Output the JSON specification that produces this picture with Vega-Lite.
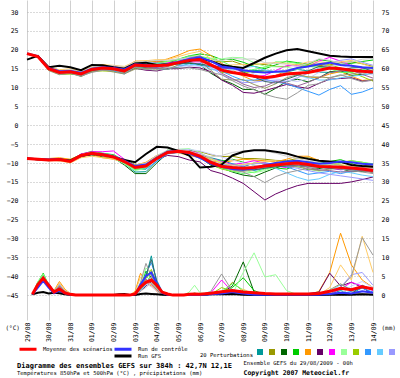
{
"$schema":"https://vega.github.io/schema/vega-lite/v6.json",
"width":346,"height":320,
"autosize":{"type":"none"},
"padding":{"left":27,"top":0,"right":27,"bottom":58},
"background":"#ffffff",
"config":{"view":{"stroke":null},"font":"DejaVu Sans Mono",
 "axis":{"labelFont":"DejaVu Sans Mono","titleFont":"DejaVu Sans Mono","labelColor":"#000000","titleColor":"#000000"},
 "legend":{"labelFont":"DejaVu Sans Mono","titleFont":"DejaVu Sans Mono","labelColor":"#000000","titleColor":"#000000","padding":0},
 "title":{"font":"DejaVu Sans Mono","subtitleFont":"DejaVu Sans Mono","color":"#000000","subtitleColor":"#000000"}},
"title":{"text":"Diagramme des ensembles GEFS sur 384h : 42,7N 12,1E","subtitle":"Températures 850hPa et 500hPa (°C) , précipitations (mm)","orient":"bottom","anchor":"start","frame":"group","fontSize":7,"fontWeight":"bold","subtitleFontSize":5.5,"subtitlePadding":2,"dx":-10,"dy":-14,"offset":0},
"datasets":{
"t850":[
{"t":0,"moy":19,"ctl":19,"gfs":17.4,"p01":19,"p02":19,"p03":19,"p04":19,"p05":19,"p06":19,"p07":19,"p08":19,"p09":19,"p10":19,"p11":19,"p12":19,"p13":19,"p14":19,"p15":19,"p16":19,"p17":19,"p18":19,"p19":19,"p20":19},
{"t":12,"moy":18.2,"ctl":18.3,"gfs":18.4,"p01":18.4,"p02":18.1,"p03":18.3,"p04":18.2,"p05":18.4,"p06":18.0,"p07":18.3,"p08":18.1,"p09":18.2,"p10":18.0,"p11":18.3,"p12":18.2,"p13":18.0,"p14":18.2,"p15":18.4,"p16":18.1,"p17":18.3,"p18":18.1,"p19":18.2,"p20":18.0},
{"t":24,"moy":15.0,"ctl":15.2,"gfs":15.4,"p01":15.3,"p02":15.4,"p03":14.8,"p04":15.3,"p05":15.6,"p06":14.7,"p07":15.2,"p08":14.6,"p09":14.7,"p10":15.1,"p11":15.2,"p12":15.4,"p13":14.9,"p14":15.0,"p15":15.5,"p16":14.5,"p17":15.0,"p18":15.2,"p19":15.3,"p20":14.8},
{"t":36,"moy":14.0,"ctl":14.3,"gfs":15.8,"p01":13.7,"p02":14.5,"p03":13.6,"p04":14.2,"p05":14.6,"p06":14.1,"p07":14.4,"p08":13.8,"p09":13.5,"p10":13.9,"p11":13.8,"p12":14.3,"p13":14.3,"p14":13.7,"p15":14.7,"p16":13.4,"p17":14.2,"p18":14.0,"p19":14.4,"p20":13.5},
{"t":48,"moy":14.2,"ctl":14.4,"gfs":15.4,"p01":14.0,"p02":14.5,"p03":13.7,"p04":14.7,"p05":14.6,"p06":14.0,"p07":14.3,"p08":14.5,"p09":13.6,"p10":13.8,"p11":14.4,"p12":14.8,"p13":14.2,"p14":14.3,"p15":15.0,"p16":13.9,"p17":13.9,"p18":14.4,"p19":14.8,"p20":13.8},
{"t":60,"moy":13.6,"ctl":13.9,"gfs":14.6,"p01":13.1,"p02":14.2,"p03":13.3,"p04":14.0,"p05":14.3,"p06":13.8,"p07":13.9,"p08":13.5,"p09":13.2,"p10":13.0,"p11":14.1,"p12":13.8,"p13":13.6,"p14":13.4,"p15":14.5,"p16":12.9,"p17":13.8,"p18":13.7,"p19":14.1,"p20":13.1},
{"t":72,"moy":14.8,"ctl":15.0,"gfs":16.0,"p01":14.4,"p02":15.3,"p03":14.2,"p04":15.1,"p05":15.6,"p06":14.6,"p07":15.3,"p08":15.0,"p09":14.3,"p10":14.6,"p11":14.9,"p12":15.4,"p13":15.2,"p14":14.8,"p15":15.4,"p16":14.2,"p17":14.5,"p18":15.1,"p19":15.5,"p20":14.0},
{"t":84,"moy":15.2,"ctl":15.4,"gfs":15.9,"p01":14.9,"p02":15.5,"p03":14.8,"p04":15.8,"p05":16.1,"p06":14.7,"p07":15.4,"p08":15.0,"p09":14.4,"p10":14.8,"p11":15.6,"p12":15.4,"p13":15.8,"p14":15.5,"p15":16.0,"p16":14.7,"p17":15.2,"p18":15.1,"p19":15.7,"p20":14.6},
{"t":96,"moy":15.0,"ctl":15.2,"gfs":15.4,"p01":14.5,"p02":15.6,"p03":14.8,"p04":15.4,"p05":15.5,"p06":14.7,"p07":15.7,"p08":15.2,"p09":14.3,"p10":14.4,"p11":15.3,"p12":15.5,"p13":15.2,"p14":14.8,"p15":15.9,"p16":14.1,"p17":14.6,"p18":15.1,"p19":15.8,"p20":14.6},
{"t":108,"moy":14.4,"ctl":14.8,"gfs":15.0,"p01":14.2,"p02":15.3,"p03":13.9,"p04":15.1,"p05":15.2,"p06":13.8,"p07":14.9,"p08":14.7,"p09":14.0,"p10":13.6,"p11":14.6,"p12":15.0,"p13":14.8,"p14":14.4,"p15":15.6,"p16":13.6,"p17":14.3,"p18":14.1,"p19":15.4,"p20":13.8},
{"t":120,"moy":16.0,"ctl":16.2,"gfs":16.4,"p01":15.4,"p02":16.5,"p03":15.7,"p04":16.4,"p05":17.0,"p06":15.1,"p07":16.8,"p08":15.6,"p09":15.2,"p10":15.5,"p11":16.6,"p12":16.2,"p13":16.7,"p14":16.3,"p15":16.9,"p16":14.9,"p17":15.8,"p18":16.1,"p19":16.8,"p20":15.4},
{"t":132,"moy":15.8,"ctl":16.0,"gfs":16.6,"p01":15.0,"p02":16.7,"p03":16.0,"p04":16.0,"p05":17.0,"p06":14.6,"p07":16.2,"p08":15.6,"p09":15.2,"p10":15.5,"p11":16.7,"p12":16.3,"p13":16.3,"p14":15.8,"p15":17.1,"p16":15.0,"p17":15.3,"p18":15.4,"p19":16.9,"p20":14.8},
{"t":144,"moy":15.8,"ctl":15.6,"gfs":16.0,"p01":15.3,"p02":17.0,"p03":16.4,"p04":15.5,"p05":16.8,"p06":14.4,"p07":16.7,"p08":16.2,"p09":14.9,"p10":15.0,"p11":16.4,"p12":16.0,"p13":16.5,"p14":15.4,"p15":17.4,"p16":15.2,"p17":15.6,"p18":15.0,"p19":17.2,"p20":14.6},
{"t":156,"moy":16.0,"ctl":16.2,"gfs":16.2,"p01":15.0,"p02":16.8,"p03":16.3,"p04":16.4,"p05":17.6,"p06":15.0,"p07":16.6,"p08":16.8,"p09":15.5,"p10":14.8,"p11":16.2,"p12":15.8,"p13":17.0,"p14":15.4,"p15":17.4,"p16":14.8,"p17":16.2,"p18":15.6,"p19":17.2,"p20":15.2},
{"t":168,"moy":16.6,"ctl":16.8,"gfs":16.6,"p01":15.4,"p02":17.0,"p03":16.4,"p04":17.5,"p05":18.6,"p06":15.0,"p07":16.9,"p08":17.6,"p09":16.4,"p10":15.8,"p11":16.2,"p12":17.1,"p13":17.4,"p14":15.6,"p15":18.2,"p16":16.0,"p17":16.2,"p18":16.8,"p19":17.6,"p20":15.2},
{"t":180,"moy":17.2,"ctl":17.6,"gfs":17.0,"p01":16.4,"p02":17.8,"p03":16.4,"p04":18.4,"p05":19.8,"p06":15.4,"p07":16.8,"p08":17.7,"p09":17.4,"p10":15.8,"p11":16.2,"p12":18.2,"p13":18.4,"p14":15.8,"p15":19.0,"p16":17.2,"p17":16.6,"p18":17.8,"p19":17.8,"p20":15.2},
{"t":192,"moy":17.4,"ctl":18.0,"gfs":17.8,"p01":15.9,"p02":17.6,"p03":16.0,"p04":18.9,"p05":20.2,"p06":15.2,"p07":16.8,"p08":18.2,"p09":18.0,"p10":16.4,"p11":15.8,"p12":17.8,"p13":18.3,"p14":15.6,"p15":19.6,"p16":17.0,"p17":16.2,"p18":18.4,"p19":17.6,"p20":14.8},
{"t":204,"moy":16.0,"ctl":17.0,"gfs":17.0,"p01":15.5,"p02":17.0,"p03":13.8,"p04":18.5,"p05":18.5,"p06":14.2,"p07":16.2,"p08":17.8,"p09":16.0,"p10":15.2,"p11":14.8,"p12":15.5,"p13":17.6,"p14":15.2,"p15":17.6,"p16":14.6,"p17":15.8,"p18":16.4,"p19":17.2,"p20":14.0},
{"t":216,"moy":14.6,"ctl":15.6,"gfs":16.0,"p01":15.1,"p02":16.8,"p03":12.1,"p04":17.4,"p05":16.4,"p06":12.0,"p07":15.2,"p08":17.6,"p09":14.0,"p10":14.4,"p11":14.4,"p12":13.4,"p13":17.0,"p14":14.6,"p15":15.8,"p16":12.2,"p17":15.4,"p18":13.8,"p19":17.2,"p20":13.4},
{"t":228,"moy":14.0,"ctl":15.2,"gfs":15.5,"p01":15.0,"p02":17.0,"p03":11.0,"p04":17.5,"p05":14.6,"p06":10.6,"p07":15.2,"p08":18.0,"p09":13.8,"p10":13.0,"p11":14.8,"p12":12.2,"p13":15.6,"p14":14.6,"p15":16.0,"p16":12.0,"p17":15.4,"p18":12.4,"p19":17.8,"p20":11.8},
{"t":240,"moy":13.5,"ctl":14.6,"gfs":15.2,"p01":14.3,"p02":16.0,"p03":9.5,"p04":16.7,"p05":13.0,"p06":8.7,"p07":13.9,"p08":17.9,"p09":13.9,"p10":11.9,"p11":15.3,"p12":11.3,"p13":14.3,"p14":14.7,"p15":16.1,"p16":12.1,"p17":14.1,"p18":10.9,"p19":17.5,"p20":10.4},
{"t":252,"moy":13.0,"ctl":14.2,"gfs":16.5,"p01":14.5,"p02":16.2,"p03":9.5,"p04":15.6,"p05":11.8,"p06":8.5,"p07":12.8,"p08":16.6,"p09":14.0,"p10":12.0,"p11":15.6,"p12":11.4,"p13":14.8,"p14":13.6,"p15":16.2,"p16":10.8,"p17":12.8,"p18":10.0,"p19":17.6,"p20":9.4},
{"t":264,"moy":12.6,"ctl":14.0,"gfs":17.9,"p01":14.6,"p02":16.1,"p03":8.2,"p04":15.0,"p05":12.0,"p06":9.2,"p07":13.2,"p08":15.6,"p09":14.4,"p10":12.2,"p11":14.6,"p12":11.8,"p13":15.4,"p14":12.6,"p15":16.4,"p16":9.8,"p17":11.6,"p18":10.4,"p19":16.6,"p20":8.2},
{"t":276,"moy":13.0,"ctl":14.2,"gfs":19.0,"p01":14.2,"p02":15.6,"p03":9.8,"p04":16.0,"p05":13.2,"p06":10.0,"p07":14.5,"p08":15.5,"p09":14.2,"p10":11.5,"p11":14.2,"p12":11.8,"p13":16.8,"p14":12.2,"p15":16.6,"p16":11.0,"p17":11.2,"p18":11.6,"p19":16.4,"p20":7.4},
{"t":288,"moy":13.6,"ctl":14.4,"gfs":19.9,"p01":14.1,"p02":15.6,"p03":11.6,"p04":17.0,"p05":14.4,"p06":10.8,"p07":15.8,"p08":15.4,"p09":14.2,"p10":11.0,"p11":14.0,"p12":11.6,"p13":16.8,"p14":12.0,"p15":16.4,"p16":12.6,"p17":12.2,"p18":11.2,"p19":16.2,"p20":6.9},
{"t":300,"moy":13.8,"ctl":15.2,"gfs":20.2,"p01":14.8,"p02":16.2,"p03":12.2,"p04":16.6,"p05":13.4,"p06":10.2,"p07":15.8,"p08":14.8,"p09":15.2,"p10":10.0,"p11":13.2,"p12":12.6,"p13":16.4,"p14":11.6,"p15":16.0,"p16":13.4,"p17":13.2,"p18":10.4,"p19":15.6,"p20":8.6},
{"t":312,"moy":14.0,"ctl":15.6,"gfs":19.6,"p01":14.4,"p02":15.8,"p03":11.5,"p04":16.2,"p05":12.8,"p06":9.8,"p07":15.6,"p08":15.6,"p09":16.2,"p10":9.0,"p11":12.6,"p12":13.8,"p13":15.6,"p14":12.4,"p15":16.8,"p16":12.8,"p17":14.4,"p18":11.4,"p19":16.4,"p20":10.6},
{"t":324,"moy":14.6,"ctl":16.2,"gfs":19.0,"p01":14.1,"p02":15.8,"p03":12.6,"p04":17.4,"p05":12.6,"p06":11.1,"p07":17.0,"p08":15.4,"p09":16.2,"p10":8.0,"p11":12.0,"p12":15.2,"p13":15.4,"p14":14.0,"p15":16.8,"p16":12.8,"p17":15.6,"p18":12.6,"p19":17.6,"p20":11.0},
{"t":336,"moy":15.2,"ctl":16.6,"gfs":18.4,"p01":14.0,"p02":16.0,"p03":14.2,"p04":17.0,"p05":13.6,"p06":12.2,"p07":18.0,"p08":15.4,"p09":16.0,"p10":9.5,"p11":12.0,"p12":16.6,"p13":15.0,"p14":15.6,"p15":16.6,"p16":12.6,"p17":15.4,"p18":14.0,"p19":17.2,"p20":12.6},
{"t":348,"moy":15.0,"ctl":16.0,"gfs":18.2,"p01":14.2,"p02":16.6,"p03":14.4,"p04":16.2,"p05":14.2,"p06":12.4,"p07":17.0,"p08":14.6,"p09":15.2,"p10":10.5,"p11":12.6,"p12":17.2,"p13":14.0,"p14":16.0,"p15":16.8,"p16":13.2,"p17":14.6,"p18":14.4,"p19":16.4,"p20":13.4},
{"t":360,"moy":14.6,"ctl":15.8,"gfs":18.1,"p01":14.2,"p02":16.8,"p03":13.2,"p04":16.4,"p05":13.0,"p06":12.6,"p07":15.8,"p08":15.2,"p09":14.0,"p10":8.2,"p11":13.0,"p12":17.6,"p13":14.0,"p14":15.0,"p15":17.2,"p16":13.6,"p17":15.2,"p18":14.6,"p19":16.8,"p20":12.4},
{"t":372,"moy":14.3,"ctl":15.4,"gfs":18.1,"p01":14.9,"p02":16.3,"p03":13.5,"p04":16.9,"p05":11.9,"p06":11.7,"p07":15.1,"p08":15.5,"p09":12.9,"p10":8.8,"p11":13.3,"p12":16.7,"p13":14.7,"p14":14.1,"p15":16.3,"p16":14.1,"p17":15.3,"p18":13.5,"p19":17.5,"p20":11.5},
{"t":384,"moy":14.1,"ctl":15.2,"gfs":18.1,"p01":15.1,"p02":15.6,"p03":13.8,"p04":17.3,"p05":12.1,"p06":11.9,"p07":15.3,"p08":14.9,"p09":11.7,"p10":9.9,"p11":13.7,"p12":15.9,"p13":15.5,"p14":13.3,"p15":15.3,"p16":14.7,"p17":14.3,"p18":12.5,"p19":17.7,"p20":12.1}
],
"t500":[
{"t":0,"moy":-8.8,"ctl":-8.8,"gfs":-8.8,"p01":-8.8,"p02":-8.8,"p03":-8.8,"p04":-8.8,"p05":-8.8,"p06":-8.8,"p07":-8.8,"p08":-8.8,"p09":-8.8,"p10":-8.8,"p11":-8.8,"p12":-8.8,"p13":-8.8,"p14":-8.8,"p15":-8.8,"p16":-8.8,"p17":-8.8,"p18":-8.8,"p19":-8.8,"p20":-8.8},
{"t":12,"moy":-9.0,"ctl":-9.0,"gfs":-9.0,"p01":-8.9,"p02":-9.2,"p03":-8.9,"p04":-9.0,"p05":-8.8,"p06":-9.1,"p07":-8.9,"p08":-9.1,"p09":-9.0,"p10":-9.0,"p11":-9.0,"p12":-8.9,"p13":-9.0,"p14":-9.0,"p15":-9.1,"p16":-8.9,"p17":-9.0,"p18":-9.0,"p19":-8.9,"p20":-9.0},
{"t":24,"moy":-9.2,"ctl":-9.1,"gfs":-9.2,"p01":-9.4,"p02":-9.1,"p03":-9.0,"p04":-8.9,"p05":-8.8,"p06":-9.1,"p07":-9.0,"p08":-9.3,"p09":-9.3,"p10":-9.2,"p11":-9.1,"p12":-9.1,"p13":-9.3,"p14":-9.2,"p15":-9.4,"p16":-9.1,"p17":-9.2,"p18":-9.1,"p19":-9.0,"p20":-9.2},
{"t":36,"moy":-9.1,"ctl":-9.0,"gfs":-9.0,"p01":-8.9,"p02":-9.4,"p03":-9.0,"p04":-9.2,"p05":-8.6,"p06":-8.9,"p07":-9.2,"p08":-9.2,"p09":-9.0,"p10":-9.1,"p11":-9.0,"p12":-9.1,"p13":-9.2,"p14":-9.0,"p15":-9.4,"p16":-9.0,"p17":-9.1,"p18":-9.0,"p19":-8.9,"p20":-9.1},
{"t":48,"moy":-9.6,"ctl":-9.5,"gfs":-9.4,"p01":-9.9,"p02":-9.4,"p03":-9.3,"p04":-9.1,"p05":-9.0,"p06":-9.6,"p07":-9.4,"p08":-9.8,"p09":-9.7,"p10":-9.5,"p11":-9.6,"p12":-9.6,"p13":-9.7,"p14":-9.5,"p15":-10.0,"p16":-9.5,"p17":-9.6,"p18":-9.6,"p19":-9.4,"p20":-9.6},
{"t":60,"moy":-8.0,"ctl":-8.1,"gfs":-8.0,"p01":-7.6,"p02":-8.5,"p03":-8.2,"p04":-7.7,"p05":-7.8,"p06":-8.3,"p07":-7.6,"p08":-8.2,"p09":-8.1,"p10":-7.9,"p11":-8.0,"p12":-8.1,"p13":-8.0,"p14":-7.9,"p15":-8.6,"p16":-7.8,"p17":-8.0,"p18":-8.1,"p19":-7.8,"p20":-8.0},
{"t":72,"moy":-7.4,"ctl":-7.5,"gfs":-7.6,"p01":-7.2,"p02":-7.7,"p03":-7.8,"p04":-6.9,"p05":-7.7,"p06":-7.6,"p07":-7.0,"p08":-7.5,"p09":-7.6,"p10":-7.3,"p11":-7.2,"p12":-7.6,"p13":-7.4,"p14":-7.3,"p15":-8.2,"p16":-7.4,"p17":-7.5,"p18":-7.6,"p19":-7.2,"p20":-7.5},
{"t":84,"moy":-7.8,"ctl":-7.7,"gfs":-7.8,"p01":-8.1,"p02":-7.6,"p03":-8.4,"p04":-7.4,"p05":-8.6,"p06":-7.7,"p07":-7.0,"p08":-8.0,"p09":-8.0,"p10":-7.7,"p11":-7.6,"p12":-7.9,"p13":-7.9,"p14":-7.7,"p15":-8.6,"p16":-7.6,"p17":-7.9,"p18":-8.0,"p19":-7.5,"p20":-7.9},
{"t":96,"moy":-8.4,"ctl":-8.2,"gfs":-8.4,"p01":-8.0,"p02":-8.6,"p03":-8.6,"p04":-7.8,"p05":-9.0,"p06":-8.7,"p07":-6.8,"p08":-8.8,"p09":-8.6,"p10":-8.2,"p11":-8.2,"p12":-8.4,"p13":-8.6,"p14":-8.3,"p15":-8.8,"p16":-8.2,"p17":-8.5,"p18":-8.5,"p19":-8.0,"p20":-8.4},
{"t":108,"moy":-9.6,"ctl":-9.4,"gfs":-9.2,"p01":-10.1,"p02":-9.0,"p03":-10.5,"p04":-9.3,"p05":-9.8,"p06":-10.0,"p07":-9.0,"p08":-10.2,"p09":-9.9,"p10":-9.4,"p11":-9.8,"p12":-9.6,"p13":-10.0,"p14":-9.5,"p15":-9.8,"p16":-9.4,"p17":-9.7,"p18":-9.6,"p19":-9.2,"p20":-9.6},
{"t":120,"moy":-11.2,"ctl":-10.8,"gfs":-9.8,"p01":-12.4,"p02":-10.4,"p03":-12.8,"p04":-11.6,"p05":-10.6,"p06":-11.0,"p07":-10.8,"p08":-12.0,"p09":-11.6,"p10":-11.2,"p11":-11.4,"p12":-11.0,"p13":-11.8,"p14":-11.0,"p15":-11.4,"p16":-10.8,"p17":-11.2,"p18":-11.0,"p19":-10.6,"p20":-11.0},
{"t":132,"moy":-10.8,"ctl":-10.4,"gfs":-7.6,"p01":-12.3,"p02":-10.3,"p03":-12.8,"p04":-11.6,"p05":-9.8,"p06":-10.4,"p07":-10.6,"p08":-11.4,"p09":-11.0,"p10":-11.6,"p11":-10.8,"p12":-10.4,"p13":-11.2,"p14":-10.6,"p15":-11.0,"p16":-10.2,"p17":-10.8,"p18":-10.6,"p19":-10.0,"p20":-10.6},
{"t":144,"moy":-8.8,"ctl":-8.6,"gfs":-5.7,"p01":-9.4,"p02":-8.4,"p03":-10.0,"p04":-8.5,"p05":-8.0,"p06":-9.0,"p07":-9.0,"p08":-9.0,"p09":-8.6,"p10":-9.6,"p11":-8.6,"p12":-8.4,"p13":-8.8,"p14":-8.6,"p15":-9.0,"p16":-8.2,"p17":-8.8,"p18":-8.8,"p19":-8.0,"p20":-8.8},
{"t":156,"moy":-7.2,"ctl":-7.0,"gfs":-5.9,"p01":-7.0,"p02":-7.5,"p03":-7.4,"p04":-6.6,"p05":-7.0,"p06":-8.0,"p07":-7.4,"p08":-7.0,"p09":-6.8,"p10":-7.6,"p11":-7.0,"p12":-6.8,"p13":-7.2,"p14":-7.2,"p15":-7.4,"p16":-6.8,"p17":-7.2,"p18":-7.4,"p19":-6.6,"p20":-7.4},
{"t":168,"moy":-6.9,"ctl":-6.8,"gfs":-6.8,"p01":-6.4,"p02":-7.1,"p03":-6.5,"p04":-6.7,"p05":-7.3,"p06":-8.3,"p07":-7.0,"p08":-6.4,"p09":-6.6,"p10":-7.2,"p11":-6.8,"p12":-6.6,"p13":-7.0,"p14":-6.6,"p15":-7.0,"p16":-6.6,"p17":-7.0,"p18":-7.2,"p19":-6.4,"p20":-7.2},
{"t":180,"moy":-7.2,"ctl":-7.4,"gfs":-8.0,"p01":-6.4,"p02":-6.8,"p03":-6.6,"p04":-7.5,"p05":-8.0,"p06":-9.2,"p07":-6.8,"p08":-6.2,"p09":-7.0,"p10":-7.6,"p11":-7.0,"p12":-7.0,"p13":-7.4,"p14":-6.4,"p15":-7.2,"p16":-7.2,"p17":-7.4,"p18":-7.6,"p19":-6.8,"p20":-7.6},
{"t":192,"moy":-8.2,"ctl":-8.6,"gfs":-11.2,"p01":-7.8,"p02":-7.0,"p03":-8.4,"p04":-8.0,"p05":-8.6,"p06":-9.7,"p07":-7.4,"p08":-7.2,"p09":-8.6,"p10":-8.8,"p11":-7.8,"p12":-8.0,"p13":-8.6,"p14":-6.8,"p15":-8.0,"p16":-8.4,"p17":-8.4,"p18":-8.6,"p19":-7.6,"p20":-8.6},
{"t":204,"moy":-9.8,"ctl":-10.2,"gfs":-11.0,"p01":-8.6,"p02":-7.8,"p03":-10.6,"p04":-9.0,"p05":-9.4,"p06":-12.0,"p07":-8.8,"p08":-8.8,"p09":-10.4,"p10":-10.2,"p11":-9.4,"p12":-9.6,"p13":-10.2,"p14":-7.6,"p15":-9.0,"p16":-10.0,"p17":-9.8,"p18":-10.0,"p19":-8.4,"p20":-10.0},
{"t":216,"moy":-10.9,"ctl":-11.0,"gfs":-10.4,"p01":-9.3,"p02":-8.3,"p03":-11.3,"p04":-9.5,"p05":-9.9,"p06":-12.8,"p07":-9.6,"p08":-9.8,"p09":-11.6,"p10":-10.6,"p11":-10.6,"p12":-10.4,"p13":-11.4,"p14":-8.4,"p15":-10.0,"p16":-11.2,"p17":-10.6,"p18":-11.0,"p19":-8.0,"p20":-11.0},
{"t":228,"moy":-11.2,"ctl":-11.6,"gfs":-8.0,"p01":-10.2,"p02":-8.2,"p03":-12.4,"p04":-9.0,"p05":-9.4,"p06":-14.0,"p07":-10.4,"p08":-10.8,"p09":-12.2,"p10":-10.2,"p11":-11.0,"p12":-10.8,"p13":-12.2,"p14":-9.2,"p15":-10.6,"p16":-11.8,"p17":-11.2,"p18":-11.4,"p19":-7.2,"p20":-11.8},
{"t":240,"moy":-11.4,"ctl":-11.8,"gfs":-7.0,"p01":-11.0,"p02":-8.8,"p03":-13.2,"p04":-9.8,"p05":-9.0,"p06":-15.4,"p07":-10.0,"p08":-11.8,"p09":-12.0,"p10":-11.0,"p11":-11.2,"p12":-10.6,"p13":-12.8,"p14":-10.0,"p15":-10.4,"p16":-12.2,"p17":-11.6,"p18":-11.8,"p19":-6.8,"p20":-12.4},
{"t":252,"moy":-11.2,"ctl":-11.4,"gfs":-6.6,"p01":-10.0,"p02":-8.8,"p03":-13.6,"p04":-10.6,"p05":-9.2,"p06":-17.6,"p07":-9.4,"p08":-12.6,"p09":-11.2,"p10":-12.0,"p11":-11.0,"p12":-10.2,"p13":-12.4,"p14":-10.6,"p15":-10.0,"p16":-11.8,"p17":-11.8,"p18":-11.4,"p19":-6.6,"p20":-13.6},
{"t":264,"moy":-10.8,"ctl":-10.6,"gfs":-6.6,"p01":-10.0,"p02":-9.0,"p03":-12.4,"p04":-11.0,"p05":-9.4,"p06":-19.8,"p07":-10.0,"p08":-12.0,"p09":-10.4,"p10":-11.4,"p11":-10.6,"p12":-10.0,"p13":-11.6,"p14":-10.8,"p15":-9.6,"p16":-11.2,"p17":-11.4,"p18":-11.0,"p19":-6.8,"p20":-15.2},
{"t":276,"moy":-10.5,"ctl":-10.0,"gfs":-7.0,"p01":-10.3,"p02":-9.3,"p03":-11.3,"p04":-11.3,"p05":-9.7,"p06":-18.2,"p07":-10.8,"p08":-11.0,"p09":-10.0,"p10":-10.6,"p11":-11.4,"p12":-10.4,"p13":-11.0,"p14":-10.4,"p15":-9.4,"p16":-10.8,"p17":-11.0,"p18":-10.6,"p19":-7.4,"p20":-13.6},
{"t":288,"moy":-10.2,"ctl":-9.6,"gfs":-7.5,"p01":-10.8,"p02":-9.4,"p03":-10.4,"p04":-11.6,"p05":-9.0,"p06":-17.0,"p07":-11.2,"p08":-10.4,"p09":-9.8,"p10":-11.0,"p11":-12.6,"p12":-10.8,"p13":-10.6,"p14":-9.8,"p15":-9.8,"p16":-10.6,"p17":-10.8,"p18":-10.4,"p19":-8.2,"p20":-12.6},
{"t":300,"moy":-10.0,"ctl":-9.4,"gfs":-8.3,"p01":-11.0,"p02":-8.8,"p03":-10.6,"p04":-10.6,"p05":-8.2,"p06":-16.0,"p07":-10.6,"p08":-10.8,"p09":-9.6,"p10":-12.0,"p11":-13.8,"p12":-11.4,"p13":-10.0,"p14":-9.6,"p15":-10.4,"p16":-11.0,"p17":-10.6,"p18":-10.6,"p19":-8.8,"p20":-12.0},
{"t":312,"moy":-10.4,"ctl":-9.8,"gfs":-8.9,"p01":-10.8,"p02":-8.6,"p03":-11.8,"p04":-10.2,"p05":-8.2,"p06":-15.4,"p07":-10.0,"p08":-11.6,"p09":-10.2,"p10":-13.0,"p11":-14.6,"p12":-12.0,"p13":-9.6,"p14":-10.2,"p15":-10.8,"p16":-11.6,"p17":-10.8,"p18":-11.2,"p19":-9.4,"p20":-11.4},
{"t":324,"moy":-10.9,"ctl":-10.2,"gfs":-9.4,"p01":-10.3,"p02":-9.3,"p03":-11.5,"p04":-10.1,"p05":-9.3,"p06":-15.4,"p07":-10.6,"p08":-12.2,"p09":-10.8,"p10":-12.6,"p11":-14.2,"p12":-12.6,"p13":-10.0,"p14":-11.0,"p15":-10.4,"p16":-12.0,"p17":-11.2,"p18":-11.8,"p19":-10.0,"p20":-11.0},
{"t":336,"moy":-11.0,"ctl":-10.0,"gfs":-9.6,"p01":-9.8,"p02":-10.2,"p03":-10.8,"p04":-9.6,"p05":-10.0,"p06":-15.4,"p07":-11.4,"p08":-11.8,"p09":-10.4,"p10":-12.2,"p11":-13.0,"p12":-13.0,"p13":-10.6,"p14":-11.6,"p15":-10.0,"p16":-11.6,"p17":-11.4,"p18":-12.0,"p19":-10.4,"p20":-11.2},
{"t":348,"moy":-11.1,"ctl":-9.6,"gfs":-9.7,"p01":-10.5,"p02":-10.7,"p03":-11.5,"p04":-9.1,"p05":-9.7,"p06":-15.4,"p07":-11.8,"p08":-11.2,"p09":-9.8,"p10":-12.8,"p11":-12.2,"p12":-13.4,"p13":-10.0,"p14":-11.2,"p15":-10.4,"p16":-11.0,"p17":-11.6,"p18":-12.4,"p19":-10.8,"p20":-11.6},
{"t":360,"moy":-11.3,"ctl":-9.8,"gfs":-10.5,"p01":-11.5,"p02":-10.7,"p03":-12.3,"p04":-10.1,"p05":-10.5,"p06":-15.0,"p07":-11.6,"p08":-10.6,"p09":-9.4,"p10":-12.2,"p11":-12.6,"p12":-13.8,"p13":-9.4,"p14":-10.6,"p15":-11.0,"p16":-11.4,"p17":-11.8,"p18":-12.2,"p19":-11.2,"p20":-12.0},
{"t":372,"moy":-11.6,"ctl":-10.2,"gfs":-10.8,"p01":-11.2,"p02":-10.6,"p03":-12.2,"p04":-11.2,"p05":-11.4,"p06":-14.4,"p07":-11.0,"p08":-10.8,"p09":-9.8,"p10":-11.6,"p11":-13.2,"p12":-14.2,"p13":-9.8,"p14":-10.8,"p15":-11.4,"p16":-12.0,"p17":-12.0,"p18":-12.0,"p19":-11.0,"p20":-12.4},
{"t":384,"moy":-12.0,"ctl":-10.4,"gfs":-11.0,"p01":-11.0,"p02":-10.6,"p03":-11.8,"p04":-12.4,"p05":-11.2,"p06":-13.7,"p07":-11.4,"p08":-11.4,"p09":-10.4,"p10":-11.8,"p11":-13.6,"p12":-14.6,"p13":-10.2,"p14":-11.0,"p15":-11.0,"p16":-12.6,"p17":-12.2,"p18":-12.4,"p19":-10.8,"p20":-12.8}
],
"pr":[
{"t":6,"moy":0.2,"ctl":0.2,"gfs":0.2,"p01":0.2,"p02":0.2,"p03":0.2,"p04":0.2,"p05":0.2,"p06":0.2,"p07":0.2,"p08":0.2,"p09":0.2,"p10":0.2,"p11":0.2,"p12":0.2,"p13":0.2,"p14":0.2,"p15":0.2,"p16":0.2,"p17":0.2,"p18":0.2,"p19":0.2,"p20":0.2},
{"t":12,"moy":2.8,"ctl":2.0,"gfs":0.6,"p01":2.5,"p02":3.2,"p03":2.6,"p04":3.4,"p05":2.2,"p06":2.8,"p07":3.0,"p08":3.6,"p09":2.4,"p10":2.0,"p11":2.6,"p12":3.0,"p13":3.2,"p14":2.4,"p15":2.8,"p16":2.6,"p17":2.2,"p18":3.0,"p19":2.6,"p20":2.8},
{"t":18,"moy":4.5,"ctl":3.8,"gfs":0.8,"p01":4.8,"p02":5.2,"p03":4.2,"p04":5.8,"p05":4.0,"p06":4.4,"p07":4.6,"p08":5.6,"p09":4.4,"p10":3.8,"p11":4.2,"p12":5.0,"p13":5.4,"p14":4.0,"p15":4.6,"p16":4.8,"p17":4.0,"p18":4.8,"p19":4.4,"p20":5.0},
{"t":24,"moy":2.6,"ctl":2.0,"gfs":0.4,"p01":2.8,"p02":2.2,"p03":3.0,"p04":2.6,"p05":2.4,"p06":2.0,"p07":3.2,"p08":2.8,"p09":2.6,"p10":2.2,"p11":2.4,"p12":2.6,"p13":3.0,"p14":2.2,"p15":2.6,"p16":2.8,"p17":2.0,"p18":2.4,"p19":2.8,"p20":3.0},
{"t":30,"moy":0.8,"ctl":0.5,"gfs":0.6,"p01":0.8,"p02":0.6,"p03":1.0,"p04":0.6,"p05":1.2,"p06":0.6,"p07":1.0,"p08":0.8,"p09":0.6,"p10":0.4,"p11":1.0,"p12":0.8,"p13":0.8,"p14":0.6,"p15":1.0,"p16":0.6,"p17":0.4,"p18":0.8,"p19":0.8,"p20":1.2},
{"t":36,"moy":1.6,"ctl":1.2,"gfs":0.5,"p01":1.4,"p02":2.4,"p03":1.8,"p04":1.6,"p05":3.6,"p06":1.0,"p07":1.4,"p08":2.0,"p09":1.6,"p10":1.2,"p11":1.8,"p12":2.8,"p13":1.4,"p14":1.2,"p15":3.2,"p16":1.6,"p17":1.0,"p18":2.2,"p19":1.6,"p20":2.6},
{"t":42,"moy":0.6,"ctl":0.5,"gfs":0.2,"p01":0.4,"p02":0.8,"p03":0.6,"p04":0.4,"p05":1.6,"p06":0.3,"p07":0.6,"p08":1.0,"p09":0.4,"p10":0.2,"p11":0.6,"p12":1.2,"p13":0.4,"p14":0.4,"p15":1.4,"p16":0.6,"p17":0.2,"p18":0.8,"p19":0.6,"p20":1.0},
{"t":48,"moy":0.2,"ctl":0.1,"gfs":0.1,"p01":0.1,"p02":0.1,"p03":0.1,"p04":0.1,"p05":0.4,"p06":0.1,"p07":0.1,"p08":0.2,"p09":0.1,"p10":0,"p11":0.1,"p12":0.3,"p13":0.1,"p14":0.1,"p15":0.4,"p16":0.1,"p17":0,"p18":0.2,"p19":0.1,"p20":0.3},
{"t":54,"moy":0,"ctl":0,"gfs":0,"p01":0,"p02":0,"p03":0,"p04":0,"p05":0,"p06":0,"p07":0,"p08":0,"p09":0,"p10":0,"p11":0,"p12":0,"p13":0,"p14":0,"p15":0,"p16":0,"p17":0,"p18":0,"p19":0,"p20":0},
{"t":60,"moy":0,"ctl":0,"gfs":0,"p01":0,"p02":0,"p03":0,"p04":0,"p05":0,"p06":0,"p07":0,"p08":0,"p09":0,"p10":0,"p11":0,"p12":0,"p13":0,"p14":0,"p15":0,"p16":0,"p17":0,"p18":0,"p19":0,"p20":0},
{"t":66,"moy":0,"ctl":0,"gfs":0,"p01":0,"p02":0,"p03":0,"p04":0,"p05":0,"p06":0,"p07":0,"p08":0,"p09":0,"p10":0,"p11":0,"p12":0,"p13":0,"p14":0,"p15":0,"p16":0,"p17":0,"p18":0,"p19":0,"p20":0},
{"t":72,"moy":0,"ctl":0,"gfs":0,"p01":0,"p02":0,"p03":0,"p04":0,"p05":0,"p06":0,"p07":0,"p08":0,"p09":0,"p10":0,"p11":0,"p12":0,"p13":0,"p14":0,"p15":0,"p16":0,"p17":0,"p18":0,"p19":0,"p20":0},
{"t":78,"moy":0,"ctl":0,"gfs":0,"p01":0,"p02":0,"p03":0,"p04":0,"p05":0,"p06":0,"p07":0,"p08":0,"p09":0,"p10":0,"p11":0,"p12":0,"p13":0,"p14":0,"p15":0,"p16":0,"p17":0,"p18":0,"p19":0,"p20":0},
{"t":84,"moy":0,"ctl":0,"gfs":0,"p01":0,"p02":0,"p03":0,"p04":0,"p05":0,"p06":0,"p07":0,"p08":0,"p09":0,"p10":0,"p11":0,"p12":0,"p13":0,"p14":0,"p15":0,"p16":0,"p17":0,"p18":0,"p19":0,"p20":0},
{"t":90,"moy":0,"ctl":0,"gfs":0,"p01":0,"p02":0,"p03":0,"p04":0,"p05":0,"p06":0,"p07":0,"p08":0,"p09":0,"p10":0,"p11":0,"p12":0,"p13":0,"p14":0,"p15":0,"p16":0,"p17":0,"p18":0,"p19":0,"p20":0},
{"t":96,"moy":0,"ctl":0,"gfs":0,"p01":0,"p02":0,"p03":0,"p04":0,"p05":0,"p06":0,"p07":0,"p08":0,"p09":0,"p10":0,"p11":0,"p12":0,"p13":0,"p14":0,"p15":0,"p16":0,"p17":0,"p18":0,"p19":0,"p20":0},
{"t":102,"moy":0,"ctl":0,"gfs":0.2,"p01":0,"p02":0,"p03":0,"p04":0,"p05":0,"p06":0,"p07":0,"p08":0,"p09":0,"p10":0,"p11":0,"p12":0,"p13":0,"p14":0,"p15":0,"p16":0,"p17":0,"p18":0,"p19":0,"p20":0},
{"t":108,"moy":0,"ctl":0,"gfs":0.3,"p01":0,"p02":0,"p03":0,"p04":0,"p05":0,"p06":0,"p07":0,"p08":0,"p09":0,"p10":0,"p11":0,"p12":0,"p13":0,"p14":0,"p15":0,"p16":0,"p17":0,"p18":0,"p19":0,"p20":0},
{"t":114,"moy":0,"ctl":0,"gfs":0,"p01":0,"p02":0,"p03":0,"p04":0,"p05":0,"p06":0,"p07":0,"p08":0,"p09":0,"p10":0,"p11":0,"p12":0,"p13":0,"p14":0,"p15":0,"p16":0,"p17":0,"p18":0,"p19":0,"p20":0},
{"t":120,"moy":0.3,"ctl":0.2,"gfs":0,"p01":0.2,"p02":0.1,"p03":0.1,"p04":0.1,"p05":1.0,"p06":0.1,"p07":0.1,"p08":0.2,"p09":0.1,"p10":0.2,"p11":0.1,"p12":0.1,"p13":0.2,"p14":0.1,"p15":0.8,"p16":0.1,"p17":0.2,"p18":0.1,"p19":0.1,"p20":0.2},
{"t":126,"moy":2.2,"ctl":2.8,"gfs":0.3,"p01":1.6,"p02":2.4,"p03":1.4,"p04":2.0,"p05":5.8,"p06":1.0,"p07":1.8,"p08":3.0,"p09":2.2,"p10":2.8,"p11":1.2,"p12":2.0,"p13":2.4,"p14":1.6,"p15":4.8,"p16":1.4,"p17":2.6,"p18":1.8,"p19":1.0,"p20":3.4},
{"t":132,"moy":3.4,"ctl":5.0,"gfs":0.4,"p01":4.8,"p02":4.0,"p03":3.0,"p04":6.4,"p05":3.4,"p06":2.4,"p07":3.6,"p08":7.2,"p09":4.4,"p10":5.6,"p11":2.6,"p12":3.6,"p13":5.0,"p14":3.0,"p15":3.8,"p16":3.4,"p17":5.2,"p18":4.2,"p19":2.0,"p20":8.4},
{"t":138,"moy":4.0,"ctl":6.0,"gfs":0.3,"p01":10.4,"p02":3.2,"p03":5.2,"p04":4.4,"p05":2.4,"p06":3.6,"p07":2.8,"p08":5.6,"p09":6.8,"p10":8.6,"p11":4.0,"p12":4.8,"p13":3.8,"p14":2.2,"p15":2.6,"p16":4.2,"p17":9.4,"p18":3.0,"p19":3.2,"p20":5.0},
{"t":144,"moy":2.6,"ctl":3.0,"gfs":0.2,"p01":3.0,"p02":1.6,"p03":2.4,"p04":1.8,"p05":1.0,"p06":2.0,"p07":1.2,"p08":2.4,"p09":3.0,"p10":4.0,"p11":2.4,"p12":2.6,"p13":1.6,"p14":1.0,"p15":1.2,"p16":2.0,"p17":3.6,"p18":1.4,"p19":1.8,"p20":2.2},
{"t":150,"moy":0.8,"ctl":0.6,"gfs":0.1,"p01":0.4,"p02":0.4,"p03":0.6,"p04":0.4,"p05":0.2,"p06":0.4,"p07":0.2,"p08":0.6,"p09":0.8,"p10":1.0,"p11":0.6,"p12":0.4,"p13":0.3,"p14":0.2,"p15":0.2,"p16":0.4,"p17":0.8,"p18":0.2,"p19":0.4,"p20":0.6},
{"t":156,"moy":0.3,"ctl":0.1,"gfs":0,"p01":0.1,"p02":0.1,"p03":0.1,"p04":0.1,"p05":0.1,"p06":0.1,"p07":0.1,"p08":0.1,"p09":0.1,"p10":0.1,"p11":0.1,"p12":0.1,"p13":0.1,"p14":0.1,"p15":0.1,"p16":0.1,"p17":0.1,"p18":0.1,"p19":0.1,"p20":0.1},
{"t":162,"moy":0,"ctl":0,"gfs":0,"p01":0,"p02":0,"p03":0,"p04":0,"p05":0,"p06":0,"p07":0,"p08":0,"p09":0,"p10":0,"p11":0,"p12":0,"p13":0,"p14":0,"p15":0,"p16":0,"p17":0,"p18":0,"p19":0,"p20":0},
{"t":168,"moy":0,"ctl":0,"gfs":0,"p01":0,"p02":0,"p03":0,"p04":0,"p05":0,"p06":0,"p07":0,"p08":0,"p09":0,"p10":0,"p11":0,"p12":0,"p13":0,"p14":0,"p15":0,"p16":0,"p17":0,"p18":0,"p19":0,"p20":0},
{"t":174,"moy":0,"ctl":0,"gfs":0,"p01":0,"p02":0,"p03":0,"p04":0,"p05":0,"p06":0,"p07":0,"p08":0,"p09":0,"p10":0,"p11":0,"p12":0,"p13":0,"p14":0,"p15":0,"p16":0,"p17":0,"p18":0,"p19":0,"p20":0},
{"t":180,"moy":0.2,"ctl":0,"gfs":0,"p01":0,"p02":0,"p03":0,"p04":0,"p05":0,"p06":0,"p07":0,"p08":0.8,"p09":0,"p10":0,"p11":0,"p12":0,"p13":0,"p14":0,"p15":0,"p16":0,"p17":0,"p18":0,"p19":0,"p20":0},
{"t":186,"moy":0.3,"ctl":0,"gfs":0,"p01":0,"p02":0,"p03":0,"p04":0,"p05":0,"p06":0,"p07":0,"p08":2.6,"p09":0,"p10":0,"p11":0,"p12":0,"p13":0.6,"p14":0,"p15":0,"p16":0,"p17":0,"p18":0,"p19":0,"p20":0},
{"t":192,"moy":0.2,"ctl":0,"gfs":0,"p01":0,"p02":0,"p03":0,"p04":0,"p05":0,"p06":0,"p07":0,"p08":0.6,"p09":0,"p10":0,"p11":0,"p12":0,"p13":0,"p14":0,"p15":0,"p16":0,"p17":0,"p18":0,"p19":0,"p20":0},
{"t":204,"moy":0.5,"ctl":0.2,"gfs":0.2,"p01":0.2,"p02":0.2,"p03":0.2,"p04":0.2,"p05":0.2,"p06":0.2,"p07":0.6,"p08":0.2,"p09":0.2,"p10":0.2,"p11":0.2,"p12":0.2,"p13":0.2,"p14":0.2,"p15":0.2,"p16":0.2,"p17":0.2,"p18":0.2,"p19":0.2,"p20":1.0},
{"t":216,"moy":0.9,"ctl":0.4,"gfs":0.2,"p01":0.2,"p02":0.2,"p03":0.6,"p04":0.4,"p05":0.2,"p06":0.2,"p07":4.0,"p08":0.2,"p09":2.0,"p10":0.2,"p11":0.2,"p12":0.2,"p13":1.0,"p14":0.2,"p15":0.2,"p16":0.2,"p17":0.2,"p18":0.2,"p19":0.2,"p20":5.6},
{"t":228,"moy":1.2,"ctl":0.8,"gfs":0.3,"p01":0.3,"p02":3.4,"p03":2.4,"p04":2.0,"p05":0.3,"p06":0.3,"p07":0.8,"p08":0.3,"p09":1.0,"p10":0.3,"p11":0.3,"p12":0.3,"p13":3.0,"p14":0.3,"p15":0.4,"p16":0.3,"p17":0.3,"p18":0.3,"p19":0.3,"p20":1.0},
{"t":240,"moy":0.8,"ctl":0.4,"gfs":0.1,"p01":0.2,"p02":1.0,"p03":8.8,"p04":4.6,"p05":0.2,"p06":0.2,"p07":0.2,"p08":6.0,"p09":0.2,"p10":0.2,"p11":0.2,"p12":0.2,"p13":1.4,"p14":0.2,"p15":1.6,"p16":0.2,"p17":0.2,"p18":0.2,"p19":0.2,"p20":0.2},
{"t":252,"moy":0.6,"ctl":0.1,"gfs":0,"p01":0.1,"p02":0.1,"p03":0.8,"p04":1.2,"p05":0.1,"p06":0.1,"p07":0.1,"p08":11.2,"p09":0.1,"p10":0.1,"p11":0.1,"p12":0.1,"p13":0.1,"p14":0.1,"p15":0.1,"p16":0.1,"p17":0.1,"p18":0.1,"p19":0.1,"p20":0.1},
{"t":264,"moy":0.4,"ctl":0.1,"gfs":0,"p01":0.1,"p02":0.1,"p03":0.1,"p04":0.1,"p05":0.1,"p06":0.1,"p07":0.1,"p08":4.8,"p09":0.1,"p10":0.1,"p11":0.1,"p12":0.1,"p13":0.1,"p14":0.1,"p15":0.1,"p16":0.1,"p17":0.1,"p18":0.1,"p19":0.1,"p20":0.1},
{"t":276,"moy":0.3,"ctl":0.1,"gfs":0,"p01":0.1,"p02":0.1,"p03":0.1,"p04":0.1,"p05":0.1,"p06":0.1,"p07":0.1,"p08":5.4,"p09":0.1,"p10":0.1,"p11":0.1,"p12":0.1,"p13":0.1,"p14":0.1,"p15":0.1,"p16":0.1,"p17":0.1,"p18":0.1,"p19":0.1,"p20":0.1},
{"t":288,"moy":0.3,"ctl":0.1,"gfs":0,"p01":0.1,"p02":0.1,"p03":0.1,"p04":0.1,"p05":0.1,"p06":0.1,"p07":0.1,"p08":1.2,"p09":0.1,"p10":0.1,"p11":0.1,"p12":0.1,"p13":0.1,"p14":0.1,"p15":0.1,"p16":0.1,"p17":0.1,"p18":0.1,"p19":0.1,"p20":0.1},
{"t":300,"moy":0.3,"ctl":0.1,"gfs":0,"p01":0.1,"p02":0.1,"p03":0.1,"p04":0.1,"p05":0.1,"p06":0.1,"p07":0.1,"p08":0.1,"p09":0.1,"p10":0.1,"p11":0.1,"p12":0.1,"p13":0.1,"p14":0.1,"p15":0.1,"p16":0.1,"p17":0.1,"p18":0.1,"p19":0.1,"p20":0.1},
{"t":312,"moy":0.3,"ctl":0.1,"gfs":0,"p01":0.1,"p02":0.1,"p03":0.1,"p04":0.1,"p05":0.1,"p06":0.4,"p07":0.1,"p08":0.1,"p09":0.1,"p10":0.1,"p11":0.1,"p12":0.1,"p13":0.1,"p14":0.1,"p15":0.1,"p16":0.1,"p17":0.1,"p18":0.1,"p19":0.1,"p20":0.1},
{"t":324,"moy":0.4,"ctl":0.1,"gfs":0,"p01":0.1,"p02":0.1,"p03":0.1,"p04":0.1,"p05":1.0,"p06":0.8,"p07":0.1,"p08":0.1,"p09":0.1,"p10":0.1,"p11":0.1,"p12":0.1,"p13":0.1,"p14":0.1,"p15":0.1,"p16":0.1,"p17":0.1,"p18":0.1,"p19":0.1,"p20":0.1},
{"t":336,"moy":1.0,"ctl":0.3,"gfs":0.1,"p01":0.2,"p02":0.2,"p03":0.2,"p04":0.2,"p05":6.0,"p06":5.8,"p07":0.2,"p08":0.2,"p09":0.2,"p10":0.2,"p11":1.0,"p12":0.2,"p13":0.2,"p14":0.2,"p15":2.0,"p16":1.4,"p17":0.2,"p18":0.2,"p19":0.2,"p20":0.2},
{"t":348,"moy":1.8,"ctl":0.6,"gfs":0.1,"p01":1.2,"p02":0.3,"p03":0.3,"p04":0.3,"p05":16.4,"p06":2.4,"p07":1.6,"p08":0.3,"p09":0.3,"p10":0.3,"p11":2.8,"p12":2.0,"p13":0.3,"p14":0.3,"p15":8.0,"p16":3.0,"p17":0.3,"p18":0.3,"p19":0.3,"p20":2.0},
{"t":360,"moy":1.4,"ctl":0.4,"gfs":0.1,"p01":0.3,"p02":0.3,"p03":0.3,"p04":0.3,"p05":8.0,"p06":3.4,"p07":3.4,"p08":0.3,"p09":0.3,"p10":1.0,"p11":1.6,"p12":5.4,"p13":0.3,"p14":2.4,"p15":4.0,"p16":1.2,"p17":0.3,"p18":0.3,"p19":0.3,"p20":5.0},
{"t":372,"moy":2.2,"ctl":1.0,"gfs":0.2,"p01":2.0,"p02":0.4,"p03":0.4,"p04":0.4,"p05":4.0,"p06":2.0,"p07":2.4,"p08":0.4,"p09":0.4,"p10":1.8,"p11":0.4,"p12":6.0,"p13":0.4,"p14":3.6,"p15":15.6,"p16":0.4,"p17":2.6,"p18":0.4,"p19":0.4,"p20":15.2},
{"t":384,"moy":1.6,"ctl":0.6,"gfs":0.1,"p01":0.3,"p02":0.3,"p03":0.3,"p04":0.3,"p05":2.0,"p06":0.3,"p07":1.2,"p08":0.3,"p09":0.3,"p10":0.8,"p11":0.3,"p12":2.6,"p13":0.3,"p14":2.0,"p15":6.0,"p16":0.3,"p17":1.4,"p18":0.3,"p19":0.3,"p20":10.6}
]
},
"layer":[
{
"encoding":{
 "x":{"field":"t","type":"quantitative","scale":{"domain":[0,384],"nice":false,"zero":false},
  "axis":{"values":[0,24,48,72,96,120,144,168,192,216,240,264,288,312,336,360,384],"labelExpr":"timeFormat(datetime(2009,7,29+datum.value/24),'%d/%m')","labelAngle":-90,"labelFontSize":6.5,"labelPadding":2,"labelOverlap":false,"labelFlush":false,"labelBound":false,"grid":true,"gridColor":"#d0d0d0","gridWidth":1,"ticks":false,"domain":false,"title":"Ensemble GEFS du 29/08/2009 - 00h","titleFontSize":5.5,"titleFontWeight":"normal","titleX":216,"titleY":42,"titleAlign":"left","titleBaseline":"middle","titleAngle":0}},
 "y":{"field":"val","type":"quantitative","scale":{"domain":[-51.6,33.2],"nice":false,"zero":false},
  "axis":{"values":[-45,-40,-35,-30,-25,-20,-15,-10,-5,0,5,10,15,20,25,30],"grid":true,"gridColor":"#b4b4b4","gridDash":[1,2],"ticks":false,"domain":false,"labelFontSize":6.5,"labelPadding":9,"labelFlush":false,"title":"(°C)","titleAngle":0,"titleX":-22,"titleY":327,"titleAlign":"left","titleBaseline":"middle","titleFontSize":6,"titleFontWeight":"normal"}}
},
"layer":[
 {"data":{"name":"t850"},"transform":[{"fold":["p01","p02","p03","p04","p05","p06","p07","p08","p09","p10","p11","p12","p13","p14","p15","p16","p17","p18","p19","p20"],"as":["serie","val"]}],
  "mark":{"type":"line","strokeWidth":1},
  "encoding":{"stroke":{"field":"serie","type":"nominal","scale":{"domain":["p01","p02","p03","p04","p05","p06","p07","p08","p09","p10","p11","p12","p13","p14","p15","p16","p17","p18","p19","p20"],"range":["#009999","#999900","#006600","#00cc00","#ff9900","#660066","#ff00ff","#99ff99","#99cc00","#3399ff","#66ccff","#9999ff","#66ff66","#ccccff","#ffcc66","#999966","#336666","#996699","#cccccc","#999999"]},
   "legend":{"orient":"none","legendX":173,"legendY":349,"direction":"horizontal","columns":20,"title":"20 Perturbations","titleOrient":"left","titleFontSize":5.5,"titleFontWeight":"normal","titlePadding":4,"symbolType":"square","symbolSize":4,"symbolStrokeWidth":4,"labelExpr":"''","labelOffset":0,"labelFontSize":1,"columnPadding":-7.4,"rowPadding":0}}}},
 {"data":{"name":"t500"},"transform":[{"fold":["p01","p02","p03","p04","p05","p06","p07","p08","p09","p10","p11","p12","p13","p14","p15","p16","p17","p18","p19","p20"],"as":["serie","val"]}],
  "mark":{"type":"line","strokeWidth":1},
  "encoding":{"stroke":{"field":"serie","type":"nominal","scale":{"domain":["p01","p02","p03","p04","p05","p06","p07","p08","p09","p10","p11","p12","p13","p14","p15","p16","p17","p18","p19","p20"],"range":["#009999","#999900","#006600","#00cc00","#ff9900","#660066","#ff00ff","#99ff99","#99cc00","#3399ff","#66ccff","#9999ff","#66ff66","#ccccff","#ffcc66","#999966","#336666","#996699","#cccccc","#999999"]},
   "legend":{"orient":"none","legendX":173,"legendY":349,"direction":"horizontal","columns":20,"title":"20 Perturbations","titleOrient":"left","titleFontSize":5.5,"titleFontWeight":"normal","titlePadding":4,"symbolType":"square","symbolSize":4,"symbolStrokeWidth":4,"labelExpr":"''","labelOffset":0,"labelFontSize":1,"columnPadding":-7.4,"rowPadding":0}}}},
 {"data":{"values":[{}]},"mark":{"type":"text","align":"left","baseline":"middle","fontSize":5.5,"font":"DejaVu Sans Mono","color":"#000000"},
  "encoding":{"x":{"datum":5,"type":"quantitative"},"y":{"datum":20.5,"type":"quantitative"},"text":{"value":"Temp. 850hPa"}}},
 {"data":{"values":[{}]},"mark":{"type":"text","align":"left","baseline":"middle","fontSize":5.5,"font":"DejaVu Sans Mono","color":"#000000"},
  "encoding":{"x":{"datum":5,"type":"quantitative"},"y":{"datum":-6.9,"type":"quantitative"},"text":{"value":"Temp. 500hPa"}}},
 {"data":{"values":[{}]},"mark":{"type":"text","align":"left","baseline":"middle","fontSize":5.5,"font":"DejaVu Sans Mono","color":"#000000"},
  "encoding":{"x":{"datum":5,"type":"quantitative"},"y":{"datum":-38.2,"type":"quantitative"},"text":{"value":"Précipitations"}}},
 {"data":{"name":"t850"},"transform":[{"fold":["gfs"],"as":["serie","val"]}],"mark":{"type":"line","strokeWidth":2},
  "encoding":{"color":{"field":"serie","type":"nominal","scale":{"domain":["moy","ctl","zz","gfs"],"range":["#ff0000","#3333ff","rgba(0,0,0,0)","#000000"]},"legend":{"orient":"none","legendX":-9,"legendY":346,"direction":"horizontal","columns":2,"title":null,"symbolType":"stroke","symbolSize":289,"symbolStrokeWidth":3,"clipHeight":6,"labelFontSize":5.5,"labelOffset":5,"rowPadding":0,"columnPadding":0,"labelExpr":"datum.value=='moy'?'Moyenne des scénarios':datum.value=='ctl'?'Run de contrôle':datum.value=='gfs'?'Run GFS':''"}}}},
 {"data":{"name":"t500"},"transform":[{"fold":["gfs"],"as":["serie","val"]}],"mark":{"type":"line","strokeWidth":2},
  "encoding":{"color":{"field":"serie","type":"nominal","scale":{"domain":["moy","ctl","zz","gfs"],"range":["#ff0000","#3333ff","rgba(0,0,0,0)","#000000"]},"legend":{"orient":"none","legendX":-9,"legendY":346,"direction":"horizontal","columns":2,"title":null,"symbolType":"stroke","symbolSize":289,"symbolStrokeWidth":3,"clipHeight":6,"labelFontSize":5.5,"labelOffset":5,"rowPadding":0,"columnPadding":0,"labelExpr":"datum.value=='moy'?'Moyenne des scénarios':datum.value=='ctl'?'Run de contrôle':datum.value=='gfs'?'Run GFS':''"}}}},
 {"data":{"name":"t850"},"transform":[{"fold":["ctl"],"as":["serie","val"]}],"mark":{"type":"line","strokeWidth":2},
  "encoding":{"color":{"field":"serie","type":"nominal","scale":{"domain":["moy","ctl","zz","gfs"],"range":["#ff0000","#3333ff","rgba(0,0,0,0)","#000000"]},"legend":{"orient":"none","legendX":-9,"legendY":346,"direction":"horizontal","columns":2,"title":null,"symbolType":"stroke","symbolSize":289,"symbolStrokeWidth":3,"clipHeight":6,"labelFontSize":5.5,"labelOffset":5,"rowPadding":0,"columnPadding":0,"labelExpr":"datum.value=='moy'?'Moyenne des scénarios':datum.value=='ctl'?'Run de contrôle':datum.value=='gfs'?'Run GFS':''"}}}},
 {"data":{"name":"t500"},"transform":[{"fold":["ctl"],"as":["serie","val"]}],"mark":{"type":"line","strokeWidth":2},
  "encoding":{"color":{"field":"serie","type":"nominal","scale":{"domain":["moy","ctl","zz","gfs"],"range":["#ff0000","#3333ff","rgba(0,0,0,0)","#000000"]},"legend":{"orient":"none","legendX":-9,"legendY":346,"direction":"horizontal","columns":2,"title":null,"symbolType":"stroke","symbolSize":289,"symbolStrokeWidth":3,"clipHeight":6,"labelFontSize":5.5,"labelOffset":5,"rowPadding":0,"columnPadding":0,"labelExpr":"datum.value=='moy'?'Moyenne des scénarios':datum.value=='ctl'?'Run de contrôle':datum.value=='gfs'?'Run GFS':''"}}}},
 {"data":{"name":"t850"},"transform":[{"fold":["moy"],"as":["serie","val"]}],"mark":{"type":"line","strokeWidth":3},
  "encoding":{"color":{"field":"serie","type":"nominal","scale":{"domain":["moy","ctl","zz","gfs"],"range":["#ff0000","#3333ff","rgba(0,0,0,0)","#000000"]},"legend":{"orient":"none","legendX":-9,"legendY":346,"direction":"horizontal","columns":2,"title":null,"symbolType":"stroke","symbolSize":289,"symbolStrokeWidth":3,"clipHeight":6,"labelFontSize":5.5,"labelOffset":5,"rowPadding":0,"columnPadding":0,"labelExpr":"datum.value=='moy'?'Moyenne des scénarios':datum.value=='ctl'?'Run de contrôle':datum.value=='gfs'?'Run GFS':''"}}}},
 {"data":{"name":"t500"},"transform":[{"fold":["moy"],"as":["serie","val"]}],"mark":{"type":"line","strokeWidth":3},
  "encoding":{"color":{"field":"serie","type":"nominal","scale":{"domain":["moy","ctl","zz","gfs"],"range":["#ff0000","#3333ff","rgba(0,0,0,0)","#000000"]},"legend":{"orient":"none","legendX":-9,"legendY":346,"direction":"horizontal","columns":2,"title":null,"symbolType":"stroke","symbolSize":289,"symbolStrokeWidth":3,"clipHeight":6,"labelFontSize":5.5,"labelOffset":5,"rowPadding":0,"columnPadding":0,"labelExpr":"datum.value=='moy'?'Moyenne des scénarios':datum.value=='ctl'?'Run de contrôle':datum.value=='gfs'?'Run GFS':''"}}}}
]
},
{
"encoding":{
 "x":{"field":"t","type":"quantitative","scale":{"domain":[0,384],"nice":false,"zero":false},
  "axis":{"orient":"top","labels":false,"ticks":false,"domain":false,"grid":false,"title":"Copyright 2007 Meteociel.fr","titleX":216,"titleY":372,"titleAlign":"left","titleBaseline":"middle","titleAngle":0,"titleFontSize":6.5,"titleFontWeight":"bold"}},
 "y":{"field":"val","type":"quantitative","scale":{"domain":[-6.6,78.2],"nice":false,"zero":false},
  "axis":{"orient":"right","values":[0,5,10,15,20,25,30,35,40,45,50,55,60,65,70,75],"grid":false,"ticks":false,"domain":false,"labelFontSize":6.5,"labelPadding":8,"labelFlush":false,"title":"(mm)","titleAngle":0,"titleX":8,"titleY":327,"titleAlign":"left","titleBaseline":"middle","titleFontSize":6,"titleFontWeight":"normal"}}
},
"layer":[
 {"data":{"name":"pr"},"transform":[{"fold":["p01","p02","p03","p04","p05","p06","p07","p08","p09","p10","p11","p12","p13","p14","p15","p16","p17","p18","p19","p20"],"as":["serie","val"]}],
  "mark":{"type":"line","strokeWidth":1},
  "encoding":{"stroke":{"field":"serie","type":"nominal","scale":{"domain":["p01","p02","p03","p04","p05","p06","p07","p08","p09","p10","p11","p12","p13","p14","p15","p16","p17","p18","p19","p20"],"range":["#009999","#999900","#006600","#00cc00","#ff9900","#660066","#ff00ff","#99ff99","#99cc00","#3399ff","#66ccff","#9999ff","#66ff66","#ccccff","#ffcc66","#999966","#336666","#996699","#cccccc","#999999"]},
   "legend":{"orient":"none","legendX":173,"legendY":349,"direction":"horizontal","columns":20,"title":"20 Perturbations","titleOrient":"left","titleFontSize":5.5,"titleFontWeight":"normal","titlePadding":4,"symbolType":"square","symbolSize":4,"symbolStrokeWidth":4,"labelExpr":"''","labelOffset":0,"labelFontSize":1,"columnPadding":-7.4,"rowPadding":0}}}},
 {"data":{"name":"pr"},"transform":[{"fold":["gfs"],"as":["serie","val"]}],"mark":{"type":"line","strokeWidth":2},
  "encoding":{"color":{"field":"serie","type":"nominal","scale":{"domain":["moy","ctl","zz","gfs"],"range":["#ff0000","#3333ff","rgba(0,0,0,0)","#000000"]},"legend":{"orient":"none","legendX":-9,"legendY":346,"direction":"horizontal","columns":2,"title":null,"symbolType":"stroke","symbolSize":289,"symbolStrokeWidth":3,"clipHeight":6,"labelFontSize":5.5,"labelOffset":5,"rowPadding":0,"columnPadding":0,"labelExpr":"datum.value=='moy'?'Moyenne des scénarios':datum.value=='ctl'?'Run de contrôle':datum.value=='gfs'?'Run GFS':''"}}}},
 {"data":{"name":"pr"},"transform":[{"fold":["ctl"],"as":["serie","val"]}],"mark":{"type":"line","strokeWidth":2},
  "encoding":{"color":{"field":"serie","type":"nominal","scale":{"domain":["moy","ctl","zz","gfs"],"range":["#ff0000","#3333ff","rgba(0,0,0,0)","#000000"]},"legend":{"orient":"none","legendX":-9,"legendY":346,"direction":"horizontal","columns":2,"title":null,"symbolType":"stroke","symbolSize":289,"symbolStrokeWidth":3,"clipHeight":6,"labelFontSize":5.5,"labelOffset":5,"rowPadding":0,"columnPadding":0,"labelExpr":"datum.value=='moy'?'Moyenne des scénarios':datum.value=='ctl'?'Run de contrôle':datum.value=='gfs'?'Run GFS':''"}}}},
 {"data":{"name":"pr"},"transform":[{"fold":["moy"],"as":["serie","val"]}],"mark":{"type":"line","strokeWidth":3},
  "encoding":{"color":{"field":"serie","type":"nominal","scale":{"domain":["moy","ctl","zz","gfs"],"range":["#ff0000","#3333ff","rgba(0,0,0,0)","#000000"]},"legend":{"orient":"none","legendX":-9,"legendY":346,"direction":"horizontal","columns":2,"title":null,"symbolType":"stroke","symbolSize":289,"symbolStrokeWidth":3,"clipHeight":6,"labelFontSize":5.5,"labelOffset":5,"rowPadding":0,"columnPadding":0,"labelExpr":"datum.value=='moy'?'Moyenne des scénarios':datum.value=='ctl'?'Run de contrôle':datum.value=='gfs'?'Run GFS':''"}}}}
]
}
],
"resolve":{"scale":{"y":"independent"},"axis":{"x":"independent"}}
}
